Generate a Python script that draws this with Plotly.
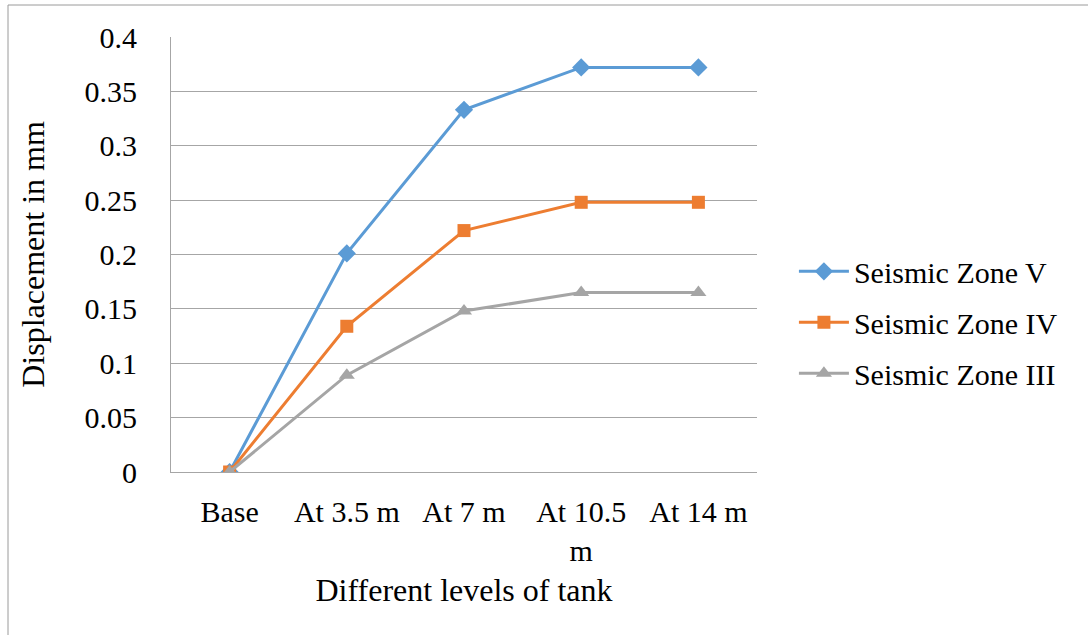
import plotly.graph_objects as go

categories = ["Base", "At 3.5 m", "At 7 m", "At 10.5<br>m", "At 14 m"]
zone_v = [0, 0.201, 0.333, 0.372, 0.372]
zone_iv = [0, 0.134, 0.222, 0.248, 0.248]
zone_iii = [0, 0.089, 0.148, 0.165, 0.165]
y_ticks = [0, 0.05, 0.1, 0.15, 0.2, 0.25, 0.3, 0.35, 0.4]
y_tick_text = ["0", "0.05", "0.1", "0.15", "0.2", "0.25", "0.3", "0.35", "0.4"]

FONT = "Liberation Serif, Times New Roman, serif"

fig = go.Figure()
series = [
    ("Seismic Zone V", zone_v, "#5B9BD5", "diamond", 14),
    ("Seismic Zone IV", zone_iv, "#ED7D31", "square", 13),
    ("Seismic Zone III", zone_iii, "#A5A5A5", "triangle-up", 14),
]
for name, vals, color, sym, sz in series:
    fig.add_trace(go.Scatter(
        x=categories, y=vals, name=name, mode="lines+markers",
        line=dict(color=color, width=3),
        marker=dict(symbol=sym, size=sz, color=color),
        legendgroup=name,
    ))

fig.update_layout(
    width=1088, height=635,
    margin=dict(l=171, r=331, t=37, b=163),
    paper_bgcolor="white", plot_bgcolor="white",
    font=dict(family=FONT, size=30, color="black"),
    showlegend=True,
    legend=dict(
        x=1.063, y=0.344, xanchor="left", yanchor="middle",
        font=dict(family=FONT, size=30, color="black"),
        itemwidth=50, tracegroupgap=9,
        bgcolor="rgba(0,0,0,0)",
    ),
    xaxis=dict(
        type="category", range=[-0.5, 4.5],
        showgrid=False, zeroline=False,
        showline=True, linecolor="#A6A6A6", linewidth=1,
        ticks="", ticklabelstandoff=13,
        tickfont=dict(family=FONT, size=30, color="black"),
        title=dict(text="Different levels of tank", standoff=12,
                   font=dict(family=FONT, size=32, color="black")),
        automargin=False,
    ),
    yaxis=dict(
        range=[0, 0.4], tickvals=y_ticks, ticktext=y_tick_text,
        showgrid=True, gridcolor="#A6A6A6", gridwidth=1,
        zeroline=False, showline=True, linecolor="#A6A6A6", linewidth=1,
        ticks="", ticklabelstandoff=27,
        tickfont=dict(family=FONT, size=30, color="black"),
        title=dict(text="Displacement in mm", standoff=30,
                   font=dict(family=FONT, size=32, color="black")),
        automargin=False,
    ),
)

# outer chart border
fig.add_shape(type="rect", xref="paper", yref="paper",
              x0=(8 - 171) / 586, x1=(1100 - 171) / 586,
              y0=-(650 - 472) / 435, y1=1 + (37 - 5) / 435,
              line=dict(color="#9A9A9A", width=1), layer="below")

fig.write_html("out.html")
